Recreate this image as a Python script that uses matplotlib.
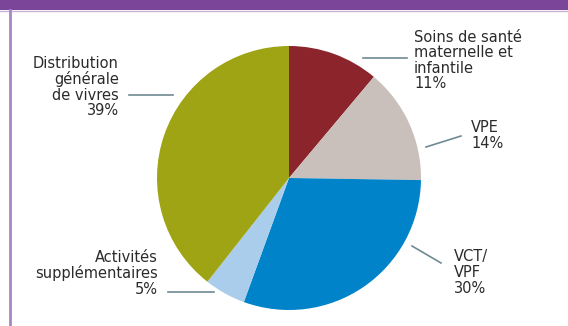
import matplotlib

matplotlib.use("Agg")
import matplotlib.pyplot as plt

# data (clockwise from 12 o'clock)
labels = ["Soins de santé\nmaternelle et\ninfantile", "VPE", "VCT/\nVPF",
          "Activités\nsupplémentaires", "Distribution\ngénérale\nde vivres"]
shares = [11, 14, 30, 5, 39]
colors = ["#8B252B", "#CAC0BB", "#0083C9", "#AACDEB", "#9FA415"]

W, H = 568, 326
fig = plt.figure(figsize=(W / 100, H / 100), dpi=100)
fig.patch.set_facecolor("white")

# pie axes: centre (289, 178) px, radius 132 px
cx, cy, r = 289, 178, 132
ax = fig.add_axes([(cx - r) / W, (H - cy - r) / H, 2 * r / W, 2 * r / H])
ax.pie(shares, colors=colors, startangle=90, counterclock=False, radius=1,
       wedgeprops=dict(linewidth=0))
ax.set_xlim(-1, 1)
ax.set_ylim(-1, 1)
ax.set_aspect("auto")
ax.axis("off")

# overlay in pixel coordinates for frame, leader lines and labels
ov = fig.add_axes([0, 0, 1, 1], zorder=3)
ov.set_xlim(0, W)
ov.set_ylim(H, 0)
ov.axis("off")
ov.patch.set_alpha(0)

ov.fill_between([0, W], 0, 10, color="#7B4699", lw=0)
ov.plot([0, W], [10.5, 10.5], color="#C9B3D9", lw=1)
ov.plot([9.5, 9.5], [10, H], color="#A886C4", lw=2)

line_c = "#6F8A93"
leaders = [((363, 407), (58, 58)), ((426, 461), (147, 136)), ((412, 441), (246, 263)),
           ((168, 214), (292, 292)), ((129, 173), (95, 95))]
for xs, ys in leaders:
    ov.plot(xs, ys, color=line_c, lw=1.2)

# label text: (x, y of first line centre, ha)
spots = [(414, 37, "left"), (471, 128, "left"), (454, 257, "left"),
         (158, 257, "right"), (119, 63, "right")]
for lab, pct, (x, y, ha) in zip(labels, shares, spots):
    ov.text(x, y - 7.5, f"{lab}\n{pct}%", ha=ha, va="top", fontsize=10.5,
            color="#2B2B2B", linespacing=1.05, multialignment=ha,
            family=["Verdana", "DejaVu Sans"])

fig.savefig("out.png", dpi=100)
